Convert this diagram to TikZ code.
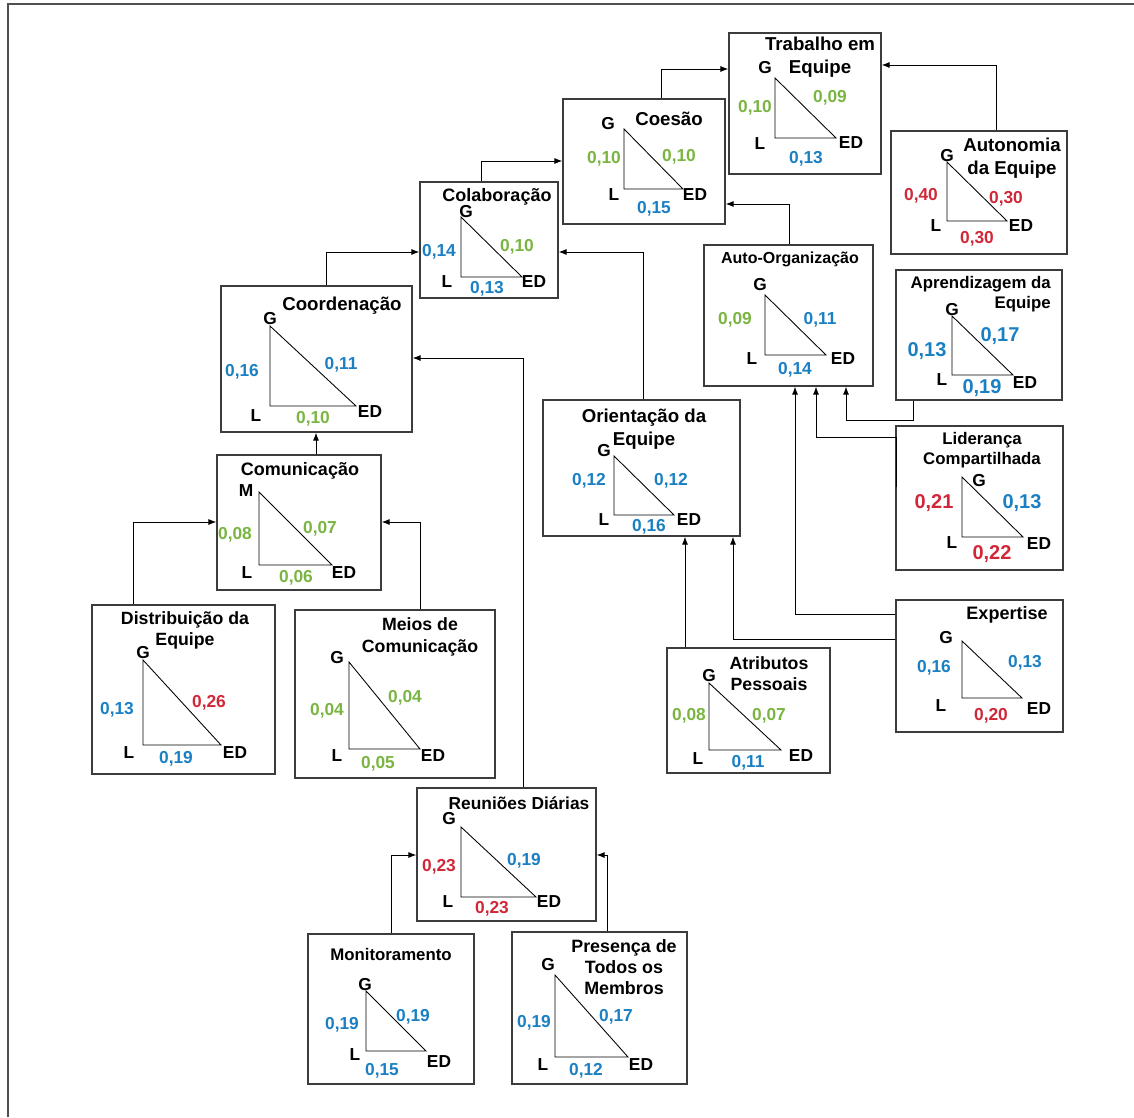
\documentclass[tikz,border=0pt]{standalone}
\usepackage{fontspec}
\setmainfont{Liberation Sans}
\usetikzlibrary{arrows.meta}
\definecolor{vgreen}{RGB}{122,181,66}
\definecolor{vblue}{RGB}{26,128,195}
\definecolor{vred}{RGB}{208,40,56}
\definecolor{boxgray}{RGB}{60,60,60}
\definecolor{framegray}{RGB}{80,80,80}
% rectangular construct box: name, left, top, right, bottom (pixel units)
\newcommand{\diagbox}[5]{\node[box, minimum width={(#4-#2)*0.75pt}, minimum height={(#5-#3)*0.75pt}] (#1) at ({(#2+#4)/2},{(#3+#5)/2}) {};}
% right triangle: x of the vertical side, top y, bottom y, x of the right corner
\newcommand{\gtri}[4]{\draw[tri] (#1,#2) -- (#1,#3) -- (#4,#3) -- cycle;}
\begin{document}
\begin{tikzpicture}[x=0.75pt,y=-0.75pt,
  box/.style={draw=boxgray, line width=0.9pt, inner sep=0pt, fill=none},
  tri/.style={draw=black, line width=0.65pt},
  conn/.style={draw=black, line width=0.7pt, -{Latex[length=6pt,width=4.5pt]}},
  ttl/.style={font=\bfseries\fontsize{13.5}{16.5}\selectfont, align=center, inner sep=0pt, yshift=-1.2pt},
  vx/.style={font=\bfseries\fontsize{13}{15}\selectfont, inner sep=0pt, yshift=-1.2pt},
  num/.style={font=\bfseries\fontsize{13}{15}\selectfont, inner sep=0pt, yshift=-1.2pt},
  bignum/.style={font=\bfseries\fontsize{15}{17}\selectfont, inner sep=0pt, yshift=-1.2pt},
  cg/.style={text=vgreen}, cb/.style={text=vblue}, cr/.style={text=vred}]
\useasboundingbox (0,0) rectangle (1134,1117);
% outer frame (top and left edges)
\draw[framegray, line width=1.1pt] (8,1117) -- (8,4) -- (1134,4);

% ---------- boxes ----------
\diagbox{trab}{729}{33}{881}{174}
\diagbox{auton}{891}{131}{1067}{254}
\diagbox{coes}{563}{99}{725}{224}
\diagbox{colab}{420}{182}{558}{298}
\diagbox{coord}{221}{286}{412}{432}
\diagbox{comun}{217}{455}{381}{590}
\diagbox{distr}{92}{605}{275}{774}
\diagbox{meios}{295}{610}{495}{778}
\diagbox{aorg}{704}{245}{873}{386}
\diagbox{aprend}{896}{270}{1062}{400}
\diagbox{lider}{896}{426}{1063}{570}
\diagbox{orient}{543}{400}{740}{536}
\diagbox{atrib}{667}{648}{830}{773}
\diagbox{expert}{896}{600}{1063}{732}
\diagbox{reun}{417}{788}{596}{921}
\diagbox{monit}{308}{934}{474}{1084}
\diagbox{pres}{512}{932}{687}{1084}

% ---------- Trabalho em Equipe ----------
\node[ttl, font=\bfseries\fontsize{14}{17.25}\selectfont] (trabT) at (820,55.5) {Trabalho em\\Equipe};
\gtri{775}{78}{138}{836}
\node[vx] (trabG) at (765,66) {G};
\node[vx] (trabL) at (760,142) {L};
\node[vx] (trabE) at (851,141) {ED};
\node[num,cg] (trabA) at (755,106) {0,10};
\node[num,cg] (trabB) at (830,96) {0,09};
\node[num,cb] (trabC) at (806,157) {0,13};

% ---------- Autonomia da Equipe ----------
\node[ttl, font=\bfseries\fontsize{14}{17.25}\selectfont] (autonT) at (1012,156.5) {Autonomia\\da Equipe};
\gtri{947}{162}{221}{1007}
\node[vx] (autonG) at (947,154) {G};
\node[vx] (autonL) at (936,224) {L};
\node[vx] (autonE) at (1021,224) {ED};
\node[num,cr] (autonA) at (921,194) {0,40};
\node[num,cr] (autonB) at (1006,197) {0,30};
\node[num,cr] (autonC) at (977,237) {0,30};

% ---------- Coesão ----------
\node[ttl, font=\bfseries\fontsize{14}{17}\selectfont] (coesT) at (669,117) {Coesão};
\gtri{624}{129}{189}{683}
\node[vx] (coesG) at (608,122) {G};
\node[vx] (coesL) at (614,193) {L};
\node[vx] (coesE) at (695,193) {ED};
\node[num,cg] (coesA) at (604,157) {0,10};
\node[num,cg] (coesB) at (679,155) {0,10};
\node[num,cb] (coesC) at (654,207) {0,15};

% ---------- Colaboração ----------
\node[ttl] (colabT) at (497,195) {Colaboração};
\gtri{461}{217}{277}{522}
\node[vx] (colabG) at (466,210) {G};
\node[vx] (colabL) at (447,280) {L};
\node[vx] (colabE) at (534,280) {ED};
\node[num,cb] (colabA) at (439,250) {0,14};
\node[num,cg] (colabB) at (517,245) {0,10};
\node[num,cb] (colabC) at (487,287) {0,13};

% ---------- Coordenação ----------
\node[ttl, font=\bfseries\fontsize{14}{17}\selectfont] (coordT) at (342,304) {Coordenação};
\gtri{270}{326}{406}{356}
\node[vx] (coordG) at (270,317) {G};
\node[vx] (coordL) at (256,414) {L};
\node[vx] (coordE) at (370,410) {ED};
\node[num,cb] (coordA) at (242,370) {0,16};
\node[num,cb] (coordB) at (341,363) {0,11};
\node[num,cg] (coordC) at (313,417) {0,10};

% ---------- Comunicação ----------
\node[ttl] (comunT) at (300,469) {Comunicação};
\gtri{259}{492}{565}{332}
\node[vx] (comunM) at (246,489) {M};
\node[vx] (comunL) at (247,571) {L};
\node[vx] (comunE) at (344,571) {ED};
\node[num,cg] (comunA) at (235,533) {0,08};
\node[num,cg] (comunB) at (320,527) {0,07};
\node[num,cg] (comunC) at (296,576) {0,06};

% ---------- Distribuição da Equipe ----------
\node[ttl, font=\bfseries\fontsize{13.3}{15.75}\selectfont] (distrT) at (185,628.5) {Distribuição da\\Equipe};
\gtri{143}{660}{745}{221}
\node[vx] (distrG) at (143,651) {G};
\node[vx] (distrL) at (129,751) {L};
\node[vx] (distrE) at (235,751) {ED};
\node[num,cb] (distrA) at (117,708) {0,13};
\node[num,cr] (distrB) at (209,701) {0,26};
\node[num,cb] (distrC) at (176,757) {0,19};

% ---------- Meios de Comunicação ----------
\node[ttl, font=\bfseries\fontsize{13.3}{16.5}\selectfont] (meiosT) at (420,635) {Meios de\\Comunicação};
\gtri{349}{662}{749}{420}
\node[vx] (meiosG) at (337,656) {G};
\node[vx] (meiosL) at (337,754) {L};
\node[vx] (meiosE) at (433,754) {ED};
\node[num,cg] (meiosA) at (327,709) {0,04};
\node[num,cg] (meiosB) at (405,696) {0,04};
\node[num,cg] (meiosC) at (378,762) {0,05};

% ---------- Auto-Organização ----------
\node[ttl, font=\bfseries\fontsize{12}{14}\selectfont] (aorgT) at (790,258) {Auto-Organização};
\gtri{765}{295}{355}{826}
\node[vx] (aorgG) at (760,283) {G};
\node[vx] (aorgL) at (752,357) {L};
\node[vx] (aorgE) at (843,357) {ED};
\node[num,cg] (aorgA) at (735,318) {0,09};
\node[num,cb] (aorgB) at (820,318) {0,11};
\node[num,cb] (aorgC) at (795,368) {0,14};

% ---------- Aprendizagem da Equipe ----------
\node[ttl, align=right, anchor=east, font=\bfseries\fontsize{12.6}{15}\selectfont] (aprendT) at (1051,293) {Aprendizagem da\\Equipe};
\gtri{952}{316}{375}{1013}
\node[vx] (aprendG) at (952,308) {G};
\node[vx] (aprendL) at (942,378) {L};
\node[vx] (aprendE) at (1025,381) {ED};
\node[bignum,cb] (aprendA) at (927,349) {0,13};
\node[bignum,cb] (aprendB) at (1000,334) {0,17};
\node[bignum,cb] (aprendC) at (982,386) {0,19};

% ---------- Liderança Compartilhada ----------
\node[ttl, font=\bfseries\fontsize{12.6}{15}\selectfont] (liderT) at (982,449) {Liderança\\Compartilhada};
\gtri{962}{477}{537}{1023}
\node[vx] (liderG) at (979,479) {G};
\node[vx] (liderL) at (952,541) {L};
\node[vx] (liderE) at (1039,542) {ED};
\node[bignum,cr] (liderA) at (934,501) {0,21};
\node[bignum,cb] (liderB) at (1022,501) {0,13};
\node[bignum,cr] (liderC) at (992,552) {0,22};

% ---------- Orientação da Equipe ----------
\node[ttl, font=\bfseries\fontsize{14}{17.25}\selectfont] (orientT) at (644,427.5) {Orientação da\\Equipe};
\gtri{614}{456}{515}{674}
\node[vx] (orientG) at (604,449) {G};
\node[vx] (orientL) at (604,518) {L};
\node[vx] (orientE) at (689,518) {ED};
\node[num,cb] (orientA) at (589,479) {0,12};
\node[num,cb] (orientB) at (671,479) {0,12};
\node[num,cb] (orientC) at (649,525) {0,16};

% ---------- Atributos Pessoais ----------
\node[ttl, font=\bfseries\fontsize{13.3}{15.75}\selectfont] (atribT) at (769,672.5) {Atributos\\Pessoais};
\gtri{709}{683}{750}{781}
\node[vx] (atribG) at (709,674) {G};
\node[vx] (atribL) at (698,757) {L};
\node[vx] (atribE) at (801,754) {ED};
\node[num,cg] (atribA) at (689,714) {0,08};
\node[num,cg] (atribB) at (769,714) {0,07};
\node[num,cb] (atribC) at (748,761) {0,11};

% ---------- Expertise ----------
\node[ttl] (expertT) at (1007,613) {Expertise};
\gtri{962}{641}{698}{1022}
\node[vx] (expertG) at (946,636) {G};
\node[vx] (expertL) at (941,704) {L};
\node[vx] (expertE) at (1039,707) {ED};
\node[num,cb] (expertA) at (934,666) {0,16};
\node[num,cb] (expertB) at (1025,661) {0,13};
\node[num,cr] (expertC) at (991,714) {0,20};

% ---------- Reuniões Diárias ----------
\node[ttl, font=\bfseries\fontsize{13}{15.5}\selectfont] (reunT) at (519,802) {Reuniões Diárias};
\gtri{461}{827}{897}{536}
\node[vx] (reunG) at (449,817) {G};
\node[vx] (reunL) at (448,900) {L};
\node[vx] (reunE) at (549,900) {ED};
\node[num,cr] (reunA) at (439,865) {0,23};
\node[num,cb] (reunB) at (524,859) {0,19};
\node[num,cr] (reunC) at (492,907) {0,23};

% ---------- Monitoramento ----------
\node[ttl, font=\bfseries\fontsize{12.6}{15}\selectfont] (monitT) at (391,953) {Monitoramento};
\gtri{366}{991}{1051}{426}
\node[vx] (monitG) at (365,983) {G};
\node[vx] (monitL) at (355,1053) {L};
\node[vx] (monitE) at (439,1060) {ED};
\node[num,cb] (monitA) at (342,1023) {0,19};
\node[num,cb] (monitB) at (413,1015) {0,19};
\node[num,cb] (monitC) at (382,1069) {0,15};

% ---------- Presença de Todos os Membros ----------
\node[ttl, font=\bfseries\fontsize{13.4}{16.1}\selectfont] (presT) at (624,965.5) {Presença de\\Todos os\\Membros};
\gtri{555}{975}{1057}{628}
\node[vx] (presG) at (548,963) {G};
\node[vx] (presL) at (543,1063) {L};
\node[vx] (presE) at (641,1063) {ED};
\node[num,cb] (presA) at (534,1021) {0,19};
\node[num,cb] (presB) at (616,1015) {0,17};
\node[num,cb] (presC) at (586,1069) {0,12};

% ---------- connectors ----------
\coordinate (kA) at (996,65);
\draw[conn] (auton.north -| kA) -- (kA) -- (trab.east |- kA);
\coordinate (kB) at (661,69);
\draw[conn] (coes.north -| kB) -- (kB) -- (trab.west |- kB);
\coordinate (kC) at (481,161);
\draw[conn] (colab.north -| kC) -- (kC) -- (coes.west |- kC);
\coordinate (kD) at (789,204);
\draw[conn] (aorg.north -| kD) -- (kD) -- (coes.east |- kD);
\coordinate (kE) at (643,252);
\draw[conn] (orient.north -| kE) -- (kE) -- (colab.east |- kE);
\coordinate (kF) at (326,252);
\draw[conn] (coord.north -| kF) -- (kF) -- (colab.west |- kF);
\coordinate (kG) at (523,358);
\draw[conn] (reun.north -| kG) -- (kG) -- (coord.east |- kG);
\coordinate (kH) at (316,0);
\draw[conn] (comun.north -| kH) -- (coord.south -| kH);
\coordinate (kI) at (133,522);
\draw[conn] (distr.north -| kI) -- (kI) -- (comun.west |- kI);
\coordinate (kJ) at (420,522);
\draw[conn] (meios.north -| kJ) -- (kJ) -- (comun.east |- kJ);
\coordinate (kK1) at (913,420);
\coordinate (kK2) at (846,420);
\draw[conn] (aprend.south -| kK1) -- (kK1) -- (kK2) -- (aorg.south -| kK2);
\coordinate (kL0) at (896,487);
\coordinate (kL1) at (896,437);
\coordinate (kL2) at (816,437);
\draw[conn] (kL0) -- (kL1) -- (kL2) -- (aorg.south -| kL2);
\coordinate (kM) at (795,614);
\draw[conn] (expert.west |- kM) -- (kM) -- (aorg.south -| kM);
\coordinate (kN) at (733,639);
\draw[conn] (expert.west |- kN) -- (kN) -- (orient.south -| kN);
\coordinate (kO) at (685,0);
\draw[conn] (atrib.north -| kO) -- (orient.south -| kO);
\coordinate (kP) at (391,855);
\draw[conn] (monit.north -| kP) -- (kP) -- (reun.west |- kP);
\coordinate (kQ) at (607,855);
\draw[conn] (pres.north -| kQ) -- (kQ) -- (reun.east |- kQ);
\end{tikzpicture}
\end{document}
